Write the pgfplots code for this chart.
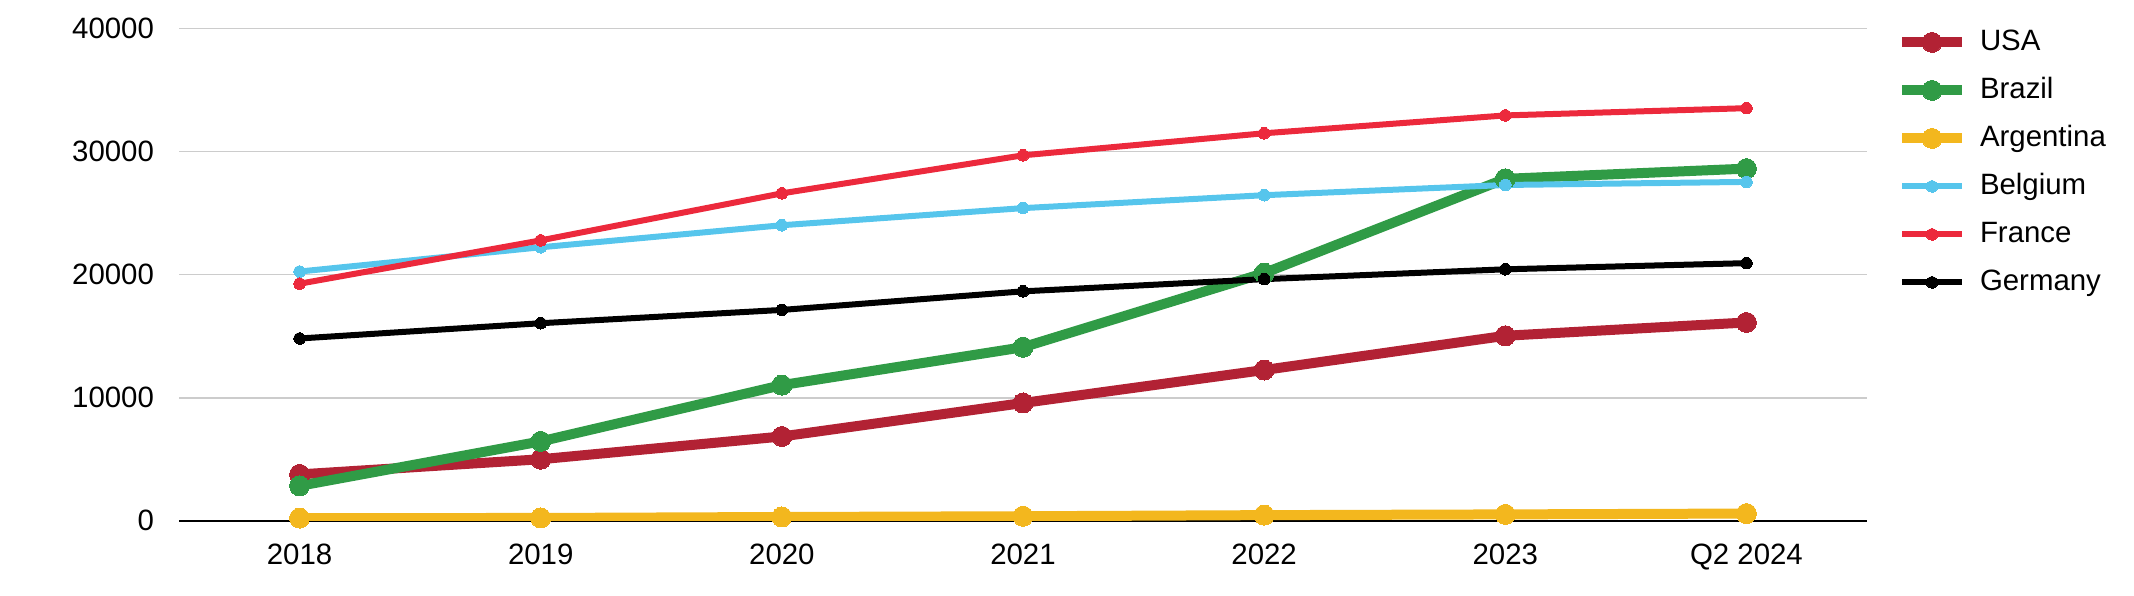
\documentclass[border=0pt]{standalone}
\usepackage{pgfplots}
\pgfplotsset{compat=1.18}
\usepackage{fontspec}
\setmainfont{Liberation Sans}
\definecolor{cusa}{RGB}{178,34,52}
\definecolor{cbra}{RGB}{48,155,70}
\definecolor{carg}{RGB}{243,183,30}
\definecolor{cbel}{RGB}{86,197,236}
\definecolor{cfra}{RGB}{236,41,60}
\definecolor{cgrid}{RGB}{204,204,204}
\begin{document}
\begin{tikzpicture}
\useasboundingbox (0,0) rectangle (1067pt,297.5pt);
\begin{axis}[
  at={(89.5pt,37.1pt)}, anchor=south west,
  scale only axis, width=844pt, height=246.2pt,
  xmin=-0.5, xmax=6.5, ymin=0, ymax=40000,
  xtick={0,1,2,3,4,5,6},
  xticklabels={2018,2019,2020,2021,2022,2023,Q2 2024},
  ytick={0,10000,20000,30000,40000},
  scaled y ticks=false,
  /pgf/number format/assume math mode=true,
  yticklabel={\pgfmathprintnumber[fixed,1000 sep={}]{\tick}},
  ticklabel style={font=\fontsize{14.7}{17}\selectfont},
  xticklabel style={yshift=-8pt},
  yticklabel style={xshift=-9pt},
  major tick length=0pt,
  axis line style={draw=none},
  ymajorgrids, grid style={cgrid, line width=0.8pt},
  extra y ticks={0}, extra y tick labels={},
  extra y tick style={grid style={black, line width=1pt}},
  legend style={at={(1,1)}, anchor=north west, xshift=15pt, draw=none, fill=none,
    inner sep=0pt, outer sep=0pt, row sep=10pt, column sep=6.5pt,
    font=\fontsize{14.7}{17}\selectfont,
    nodes={inner sep=0pt, text height=11pt, text depth=3pt}},
  legend cell align=left,
  legend image code/.code={\draw[mark repeat=2,mark phase=2,#1] plot coordinates {(0pt,0pt) (15pt,0pt) (30pt,0pt)};},
  every axis plot/.append style={mark options={line width=0pt}},
]
\addplot[cusa, line width=5pt, mark=*, mark size=5pt] coordinates {(0,3770) (1,5000) (2,6850) (3,9570) (4,12250) (5,15030) (6,16110)};
\addlegendentry{USA}
\addplot[cbra, line width=5pt, mark=*, mark size=5pt] coordinates {(0,2840) (1,6450) (2,11020) (3,14100) (4,20120) (5,27780) (6,28610)};
\addlegendentry{Brazil}
\addplot[carg, line width=5pt, mark=*, mark size=5pt] coordinates {(0,220) (1,230) (2,310) (3,370) (4,460) (5,520) (6,590)};
\addlegendentry{Argentina}
\addplot[cbel, line width=3pt, mark=*, mark size=2.9pt] coordinates {(0,20250) (1,22220) (2,24010) (3,25400) (4,26450) (5,27280) (6,27530)};
\addlegendentry{Belgium}
\addplot[cfra, line width=3pt, mark=*, mark size=2.9pt] coordinates {(0,19260) (1,22780) (2,26600) (3,29690) (4,31480) (5,32930) (6,33520)};
\addlegendentry{France}
\addplot[black, line width=3pt, mark=*, mark size=2.9pt] coordinates {(0,14810) (1,16050) (2,17130) (3,18640) (4,19630) (5,20430) (6,20930)};
\addlegendentry{Germany}
\end{axis}
\end{tikzpicture}
\end{document}
